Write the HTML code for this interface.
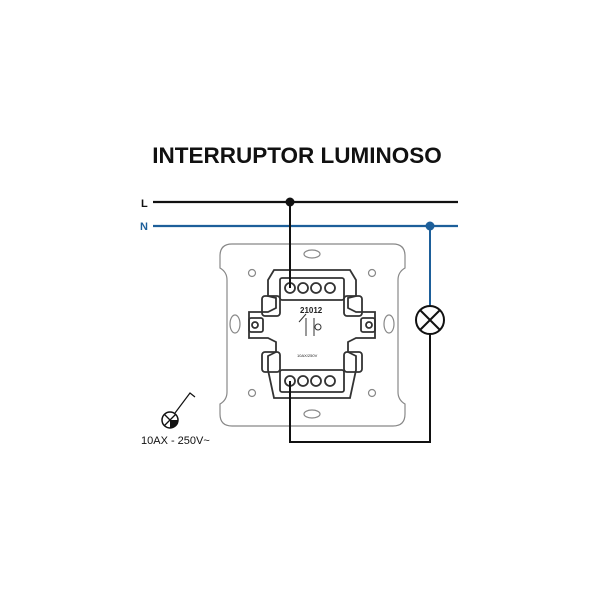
<!DOCTYPE html>
<html><head><style>
html,body{margin:0;padding:0;background:#fff;width:600px;height:600px;overflow:hidden}
</style></head><body>
<svg width="600" height="600" viewBox="0 0 600 600" xmlns="http://www.w3.org/2000/svg">
<text x="297" y="163" text-anchor="middle" font-family="Liberation Sans, sans-serif" font-weight="bold" font-size="22.5" fill="#111">INTERRUPTOR LUMINOSO</text>
<text x="141" y="207" font-family="Liberation Sans, sans-serif" font-weight="bold" font-size="11" fill="#111">L</text>
<text x="140" y="230" font-family="Liberation Sans, sans-serif" font-weight="bold" font-size="11" fill="#1d5f9a">N</text>
<g fill="none" stroke="#888" stroke-width="1.2">
<path d="M232 244 H393 Q405 244 405 256 V268 Q398 272 398 280 V392 Q398 400 405 404 V414 Q405 426 393 426 H232 Q220 426 220 414 V404 Q227 400 227 392 V280 Q227 272 220 268 V256 Q220 244 232 244 Z"/>
<ellipse cx="235" cy="324" rx="5" ry="9"/>
<ellipse cx="389" cy="324" rx="5" ry="9"/>
<ellipse cx="312" cy="254" rx="8" ry="4"/>
<ellipse cx="312" cy="414" rx="8" ry="4"/>
<circle cx="252" cy="273" r="3.5"/><circle cx="372" cy="273" r="3.5"/>
<circle cx="252" cy="393" r="3.5"/><circle cx="372" cy="393" r="3.5"/>
</g>
<g fill="none" stroke="#333" stroke-width="1.8">
<path d="M274 270 H350 L356 280 V296 L348 298 V308 L356 312 H375 V338 H356 L348 342 V352 L356 356 V370 L350 398 H274 L268 370 V356 L276 352 V342 L268 338 H249 V312 H268 L276 308 V298 L268 296 V280 Z"/>
<rect x="280" y="278" width="64" height="22" rx="2"/>
<rect x="280" y="370" width="64" height="22" rx="2"/>
<rect x="262" y="296" width="18" height="20" rx="3"/>
<rect x="344" y="296" width="18" height="20" rx="3"/>
<rect x="262" y="352" width="18" height="20" rx="3"/>
<rect x="344" y="352" width="18" height="20" rx="3"/>
<rect x="249" y="318" width="14" height="14" rx="2"/>
<rect x="361" y="318" width="14" height="14" rx="2"/>
<circle cx="255" cy="325" r="3"/><circle cx="369" cy="325" r="3"/>
<circle cx="290" cy="288" r="5"/><circle cx="303" cy="288" r="5"/><circle cx="316" cy="288" r="5"/><circle cx="330" cy="288" r="5"/>
<circle cx="290" cy="381" r="5"/><circle cx="303" cy="381" r="5"/><circle cx="316" cy="381" r="5"/><circle cx="330" cy="381" r="5"/>
<path d="M299 322 L306 314 M306 318 V336 M314 318 V336" stroke-width="1"/>
<circle cx="318" cy="327" r="3" stroke-width="1"/>
</g>
<text x="300" y="313" font-family="Liberation Sans, sans-serif" font-weight="bold" font-size="8" fill="#222">21012</text>
<text x="297" y="357" font-family="Liberation Sans, sans-serif" font-size="4" fill="#222">10AX/250V</text>
<line x1="153" y1="202" x2="458" y2="202" stroke="#111" stroke-width="2.2"/>
<line x1="153" y1="226" x2="458" y2="226" stroke="#1d5f9a" stroke-width="2.2"/>
<line x1="290" y1="202" x2="290" y2="288" stroke="#111" stroke-width="2"/>
<circle cx="290" cy="202" r="4.5" fill="#111"/>
<line x1="430" y1="226" x2="430" y2="306" stroke="#1d5f9a" stroke-width="2"/>
<circle cx="430" cy="226" r="4.5" fill="#1d5f9a"/>
<circle cx="430" cy="320" r="14" fill="#fff" stroke="#111" stroke-width="2"/>
<path d="M420 310 L440 330 M440 310 L420 330" stroke="#111" stroke-width="2"/>
<path d="M430 334 V442 H290 V381" fill="none" stroke="#111" stroke-width="2"/>
<circle cx="170" cy="420" r="8" fill="#fff" stroke="#111" stroke-width="1.5"/>
<path d="M170 420 L178 420 A8 8 0 0 1 170 428 Z" fill="#111"/>
<path d="M164.5 414.5 L175.5 425.5 M175.5 414.5 L164.5 425.5" stroke="#111" stroke-width="1.3"/>
<path d="M175 413 L190 393 L195 397" fill="none" stroke="#111" stroke-width="1.2"/>
<text x="141" y="444" font-family="Liberation Sans, sans-serif" font-size="11" fill="#111">10AX - 250V~</text>
</svg>
</body></html>
